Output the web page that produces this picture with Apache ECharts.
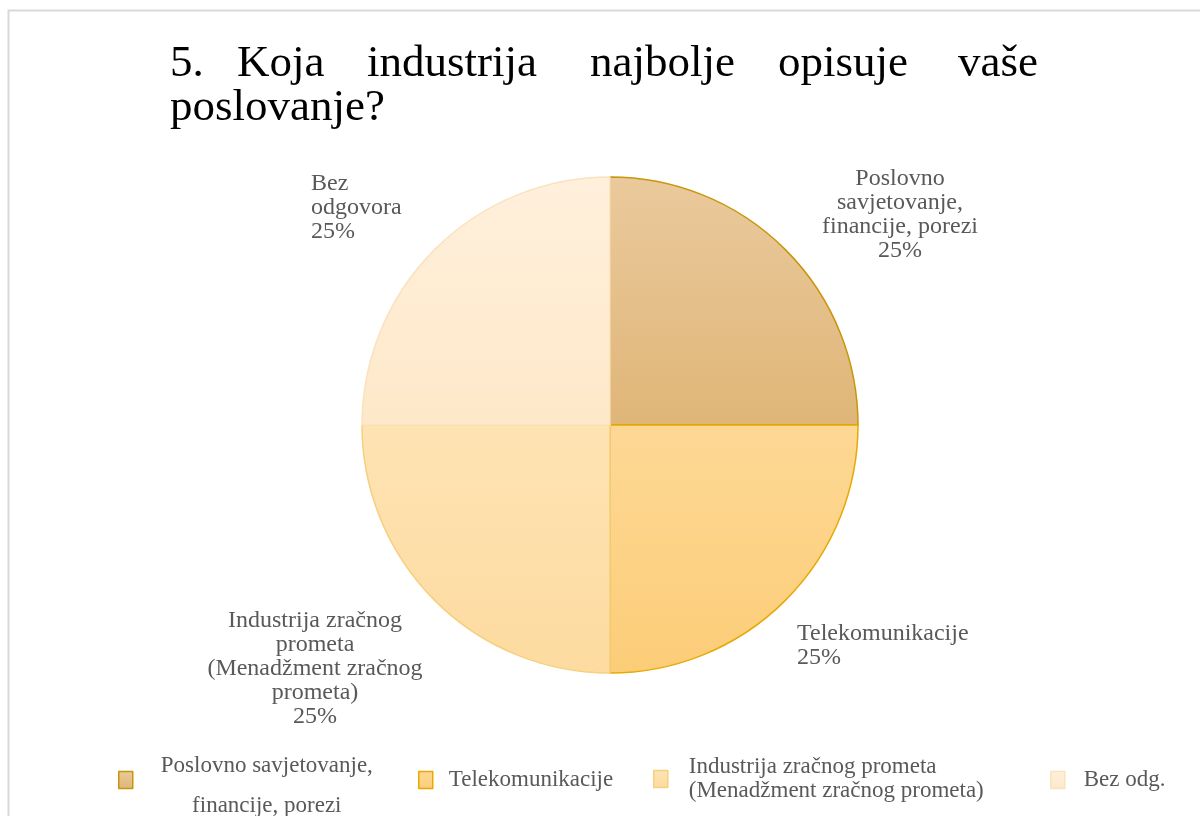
<!DOCTYPE html>
<html>
<head>
<meta charset="utf-8">
<script src="https://cdn.jsdelivr.net/npm/echarts@6/dist/echarts.min.js"></script>
<style>
  html,body{margin:0;padding:0;background:#fff;}
  #chart{width:1200px;height:816px;}
</style>
</head>
<body>
<div id="chart"></div>
<script>
// ========= data =========
const categories = [
    "Poslovno savjetovanje, financije, porezi",
    "Telekomunikacije",
    "Industrija zračnog prometa (Menadžment zračnog prometa)",
    "Bez odgovora"
];
const values = [25, 25, 25, 25];
const sliceLabels = [
    "Poslovno\nsavjetovanje,\nfinancije, porezi",
    "Telekomunikacije",
    "Industrija zračnog\nprometa\n(Menadžment zračnog\nprometa)",
    "Bez\nodgovora"
];
const legendNames = [
    "Poslovno savjetovanje,\n\nfinancije, porezi",
    "Telekomunikacije",
    "Industrija zračnog prometa\n(Menadžment zračnog prometa)",
    "Bez odg."
];
const titleWords = ["5.", "Koja", "industrija", "najbolje", "opisuje", "vaše", "poslovanje?"];

// ========= style =========
const serif = '"Liberation Serif", "DejaVu Serif", serif';
const textGray = "#595959";
const fills = [
    ["#eac99c", "#dfb678"],
    ["#fdd895", "#fccd78"],
    ["#fee3b3", "#fddba0"],
    ["#fff0dc", "#fee8c9"]
];
const borders = ["#c8960a", "#e8a900", "#f6cf7f", "#fbe2bf"];

// label anchor per slice: x, y(top), align
const labelPos = [
    [900, 167, "center"],
    [797, 622, "left"],
    [315, 609, "center"],
    [311, 172, "left"]
];
// title word positions [left, top]
const titlePos = [
    [170, 42], [237, 42], [367, 42], [590, 42], [778, 42], [958, 42], [170, 86]
];
// legend layout: icon left, top, text padding
const legendPos = [
    [118, 744, [12, 0, 0, 23]],
    [418, 768, [0, 0, 0, 11]],
    [653, 755, [0, 0, 0, 16]],
    [1050, 768, [0, 0, 0, 14]]
];

const grad = c => new echarts.graphic.LinearGradient(0, 0, 0, 1, [
    {offset: 0, color: c[0]},
    {offset: 1, color: c[1]}
]);

const chart = echarts.init(document.getElementById("chart"));

chart.setOption({
    animation: false,
    backgroundColor: "#fff",
    title: titleWords.map((w, i) => ({
        text: w,
        left: titlePos[i][0],
        top: titlePos[i][1],
        padding: 0,
        textStyle: {
            fontFamily: serif,
            fontSize: 45,
            fontWeight: "normal",
            color: "#000",
            lineHeight: 44
        }
    })),
    legend: categories.map((c, i) => ({
        data: [{
            name: c,
            itemStyle: {color: grad(fills[i]), borderColor: borders[i], borderWidth: 1.5}
        }],
        left: legendPos[i][0],
        top: legendPos[i][1],
        padding: 0,
        icon: "rect",
        itemWidth: 14,
        itemHeight: 17,
        selectedMode: false,
        formatter: () => i === 0
            ? "{a|Poslovno savjetovanje,}\n{a| }\n{a|financije, porezi}"
            : legendNames[i],
        textStyle: {
            fontFamily: serif,
            fontSize: 23,
            color: textGray,
            lineHeight: i === 0 ? 20 : 24,
            padding: legendPos[i][2],
            rich: {
                a: {
                    fontFamily: serif,
                    fontSize: 23,
                    color: textGray,
                    lineHeight: 20,
                    align: "center"
                }
            }
        }
    })),
    graphic: [{
        type: "rect",
        shape: {x: 8.5, y: 10.5, width: 1300, height: 900},
        style: {fill: "none", stroke: "#d9d9d9", lineWidth: 2},
        silent: true,
        z: -1
    }],
    series: [{
        type: "pie",
        center: [610, 425],
        radius: 248,
        startAngle: 90,
        clockwise: true,
        data: categories.map((c, i) => ({
            name: c,
            value: values[i],
            itemStyle: {
                color: grad(fills[i]),
                borderColor: borders[i],
                borderWidth: 1.5
            }
        })),
        label: {
            show: true,
            position: "outside",
            formatter: p => sliceLabels[p.dataIndex] + "\n" + p.percent + "%",
            fontFamily: serif,
            fontSize: 24,
            lineHeight: 24,
            color: textGray
        },
        labelLine: {show: false},
        labelLayout: p => ({
            x: labelPos[p.dataIndex][0],
            y: labelPos[p.dataIndex][1],
            align: labelPos[p.dataIndex][2],
            verticalAlign: "top"
        }),
        emphasis: {disabled: true}
    }]
});
</script>
</body>
</html>
